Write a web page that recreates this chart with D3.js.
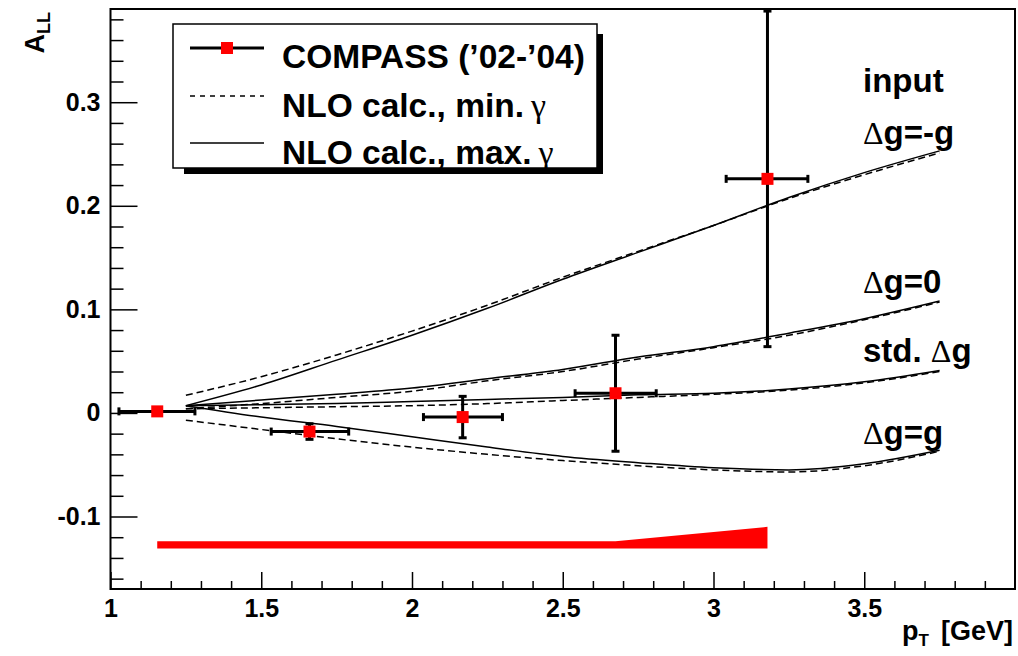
<!DOCTYPE html>
<html><head><meta charset="utf-8">
<script src="https://cdn.jsdelivr.net/npm/d3@7"></script>
<style>
body{margin:0;background:#fff}
svg{display:block}
text{font-family:"Liberation Sans",Arial,Helvetica,sans-serif;font-weight:bold;fill:#000}
</style>
</head><body>
<svg id="c" width="1018" height="656"></svg>
<script>
// ---------- data ----------
const xMajorTicks = [1, 1.5, 2, 2.5, 3, 3.5];
const xTickLabels = ["1", "1.5", "2", "2.5", "3", "3.5"];
const yMajorTicks = [-0.1, 0, 0.1, 0.2, 0.3];
const yTickLabels = ["-0.1", "0", "0.1", "0.2", "0.3"];

// COMPASS points
const ptX    = [1.155, 1.66, 2.168, 2.675, 3.179];
const ptY    = [0.0015, -0.018, -0.004, 0.019, 0.226];
const ptXLo  = [1.028, 1.533, 2.038, 2.541, 3.042];
const ptXHi  = [1.280, 1.790, 2.300, 2.810, 3.313];
const ptYErr = [0.002, 0.0075, 0.020, 0.056, 0.162];
// systematic band
const sysBase = -0.131;
const sysErr  = [0.007, 0.007, 0.007, 0.007, 0.021];

// NLO curves
const curveX      = [1.25, 1.5, 1.75, 2.0, 2.25, 2.5, 2.75, 3.0, 3.25, 3.5, 3.75];
const negGSolid   = [0.007, 0.027, 0.051, 0.075, 0.101, 0.129, 0.155, 0.181, 0.208, 0.232, 0.253];
const negGDash    = [0.017, 0.035, 0.056, 0.079, 0.104, 0.131, 0.156, 0.181, 0.207, 0.230, 0.251];
const zeroSolid   = [0.007, 0.0125, 0.018, 0.024, 0.033, 0.042, 0.054, 0.064, 0.077, 0.091, 0.108];
const zeroDash    = [0.004, 0.009, 0.015, 0.021, 0.031, 0.040, 0.052, 0.063, 0.075, 0.090, 0.107];
const stdSolid    = [0.007, 0.008, 0.009, 0.011, 0.013, 0.015, 0.0175, 0.019, 0.023, 0.030, 0.041];
const stdDash     = [0.004, 0.005, 0.006, 0.007, 0.009, 0.012, 0.015, 0.018, 0.022, 0.029, 0.040];
const posGSolid   = [0.007, -0.004, -0.013, -0.023, -0.033, -0.042, -0.048, -0.053, -0.055, -0.049, -0.036];
const posGDash    = [-0.007, -0.016, -0.025, -0.033, -0.040, -0.046, -0.051, -0.055, -0.057, -0.051, -0.037];

const legendLabels = ["COMPASS (\u201902-\u201904)", "NLO calc., min.", "NLO calc., max."];

// ---------- drawing ----------
const svg = d3.select("#c");
const W = 1018, H = 656;
const L = 110.5, R = 1015, T = 9, B = 589;
const x = d3.scaleLinear().domain([1, 4]).range([L, R]);
const y = d3.scaleLinear().domain([-0.17, 0.39]).range([B, T]);

svg.append("rect").attr("width", W).attr("height", H).attr("fill", "#fff");

// systematic band
const band = ptX.map((v, i) => [v, sysErr[i]]);
svg.append("path").datum(band)
  .attr("d", d3.area().x(d => x(d[0])).y0(y(sysBase)).y1(d => y(sysBase + d[1])))
  .attr("fill", "#ff0000");

// curves
const line = d3.line().x(d => x(d[0])).y(d => y(d[1])).curve(d3.curveMonotoneX);
const curves = [
  [negGSolid, false], [negGDash, true],
  [zeroSolid, false], [zeroDash, true],
  [stdSolid, false], [stdDash, true],
  [posGSolid, false], [posGDash, true]
];
curves.forEach(([vals, dashed]) => {
  svg.append("path").datum(curveX.map((v, i) => [v, vals[i]]))
    .attr("d", line).attr("fill", "none").attr("stroke", "#000")
    .attr("stroke-width", 1.5)
    .attr("stroke-dasharray", dashed ? "7,4" : null);
});

// error bars + points
const eb = svg.append("g").attr("stroke", "#000").attr("stroke-width", 3);
ptX.forEach((v, i) => {
  const cx = x(v), cy = y(ptY[i]);
  const x0 = x(ptXLo[i]), x1 = x(ptXHi[i]);
  const y0 = y(ptY[i] - ptYErr[i]), y1 = y(ptY[i] + ptYErr[i]);
  eb.append("line").attr("x1", x0).attr("x2", x1).attr("y1", cy).attr("y2", cy);
  eb.append("line").attr("x1", x0).attr("x2", x0).attr("y1", cy - 4).attr("y2", cy + 4);
  eb.append("line").attr("x1", x1).attr("x2", x1).attr("y1", cy - 4).attr("y2", cy + 4);
  eb.append("line").attr("x1", cx).attr("x2", cx).attr("y1", y0).attr("y2", y1);
  eb.append("line").attr("x1", cx - 4).attr("x2", cx + 4).attr("y1", y0).attr("y2", y0);
  eb.append("line").attr("x1", cx - 4).attr("x2", cx + 4).attr("y1", y1).attr("y2", y1);
});
svg.append("g").selectAll("rect").data(ptX).join("rect")
  .attr("x", (d) => x(d) - 6).attr("y", (d, i) => y(ptY[i]) - 6)
  .attr("width", 12).attr("height", 12).attr("fill", "#ff0000");

// axes
function styleAxis(g) {
  g.select(".domain").remove();
  g.selectAll("line").attr("stroke", "#000").attr("stroke-width", 1.5);
  g.selectAll("text").attr("font-size", 25).attr("font-family", null).attr("fill", "#000");
  g.attr("font-family", null).attr("font-size", null);
}
const xMinor = d3.range(11, 40).map(d => d / 10).filter(d => !xMajorTicks.some(m => Math.abs(m - d) < 1e-9));
svg.append("g").attr("transform", `translate(0,${B})`)
  .call(d3.axisBottom(x).tickValues(xMinor).tickSize(-8).tickFormat(""))
  .call(styleAxis);
svg.append("g").attr("transform", `translate(0,${B})`)
  .call(d3.axisBottom(x).tickValues(xMajorTicks).tickSize(-17).tickPadding(10)
        .tickFormat((d, i) => xTickLabels[i]))
  .call(styleAxis);

const yMinor = d3.range(-16, 40, 2).map(d => d / 100).filter(d => !yMajorTicks.some(m => Math.abs(m - d) < 1e-9));
svg.append("g").attr("transform", `translate(${L},0)`)
  .call(d3.axisLeft(y).tickValues(yMinor).tickSize(-13).tickFormat(""))
  .call(styleAxis);
svg.append("g").attr("transform", `translate(${L},0)`)
  .call(d3.axisLeft(y).tickValues(yMajorTicks).tickSize(-27).tickPadding(10)
        .tickFormat((d, i) => yTickLabels[i]))
  .call(styleAxis);

// frame
svg.append("rect").attr("x", L).attr("y", T).attr("width", R - L).attr("height", B - T)
  .attr("fill", "none").attr("stroke", "#000").attr("stroke-width", 2);

// axis titles
const yt = svg.append("text").attr("transform", "translate(44,12) rotate(-90)")
  .attr("text-anchor", "end").attr("font-size", 27);
yt.append("tspan").text("A");
yt.append("tspan").attr("font-size", 18).attr("dy", 6).text("LL");

const xt = svg.append("text").attr("x", 1013).attr("y", 640)
  .attr("text-anchor", "end").attr("font-size", 27);
xt.append("tspan").text("p");
xt.append("tspan").attr("font-size", 17).attr("dy", 6).text("T");
xt.append("tspan").attr("dy", -6).attr("dx", 12).text("[GeV]");

// legend
const lg = svg.append("g");
lg.append("rect").attr("x", 184).attr("y", 34).attr("width", 419).attr("height", 140).attr("fill", "#000");
lg.append("rect").attr("x", 173).attr("y", 24).attr("width", 424).attr("height", 144)
  .attr("fill", "#fff").attr("stroke", "#000").attr("stroke-width", 1.5);
const legRowY = [48, 96, 143];
const legBase = [68, 117, 164];
lg.append("line").attr("x1", 190).attr("x2", 264).attr("y1", legRowY[0]).attr("y2", legRowY[0])
  .attr("stroke", "#000").attr("stroke-width", 3);
lg.append("rect").attr("x", 221).attr("y", legRowY[0] - 6).attr("width", 12).attr("height", 12).attr("fill", "#ff0000");
lg.append("line").attr("x1", 190).attr("x2", 264).attr("y1", legRowY[1]).attr("y2", legRowY[1])
  .attr("stroke", "#000").attr("stroke-width", 1.5).attr("stroke-dasharray", "5,5");
lg.append("line").attr("x1", 190).attr("x2", 264).attr("y1", legRowY[2]).attr("y2", legRowY[2])
  .attr("stroke", "#000").attr("stroke-width", 1.5);
legendLabels.forEach((t, i) => {
  const tx = lg.append("text").attr("x", 282).attr("y", legBase[i]).attr("font-size", 33.5);
  tx.append("tspan").text(t);
  if (i > 0) {
    tx.append("tspan").attr("dx", 7).attr("font-family", "'Liberation Serif','DejaVu Serif',serif")
      .attr("font-weight", "normal").attr("font-size", 34).text("\u03b3");
  }
});

// curve annotations
const ann = [
  {yy: 92,  parts: [["input", 0]]},
  {yy: 144, parts: [["\u0394", 1], ["g=-g", 0]]},
  {yy: 293, parts: [["\u0394", 1], ["g=0", 0]]},
  {yy: 362, parts: [["std. ", 0], ["\u0394", 1], ["g", 0]]},
  {yy: 444, parts: [["\u0394", 1], ["g=g", 0]]}
];
ann.forEach(a => {
  const t = svg.append("text").attr("x", 863).attr("y", a.yy).attr("font-size", 33);
  a.parts.forEach(([s, sym]) => {
    const sp = t.append("tspan").text(s);
    if (sym) sp.attr("font-family", "'Liberation Serif','DejaVu Serif',serif").attr("font-weight", "normal").attr("font-size", 32);
  });
});
</script>
</body></html>
